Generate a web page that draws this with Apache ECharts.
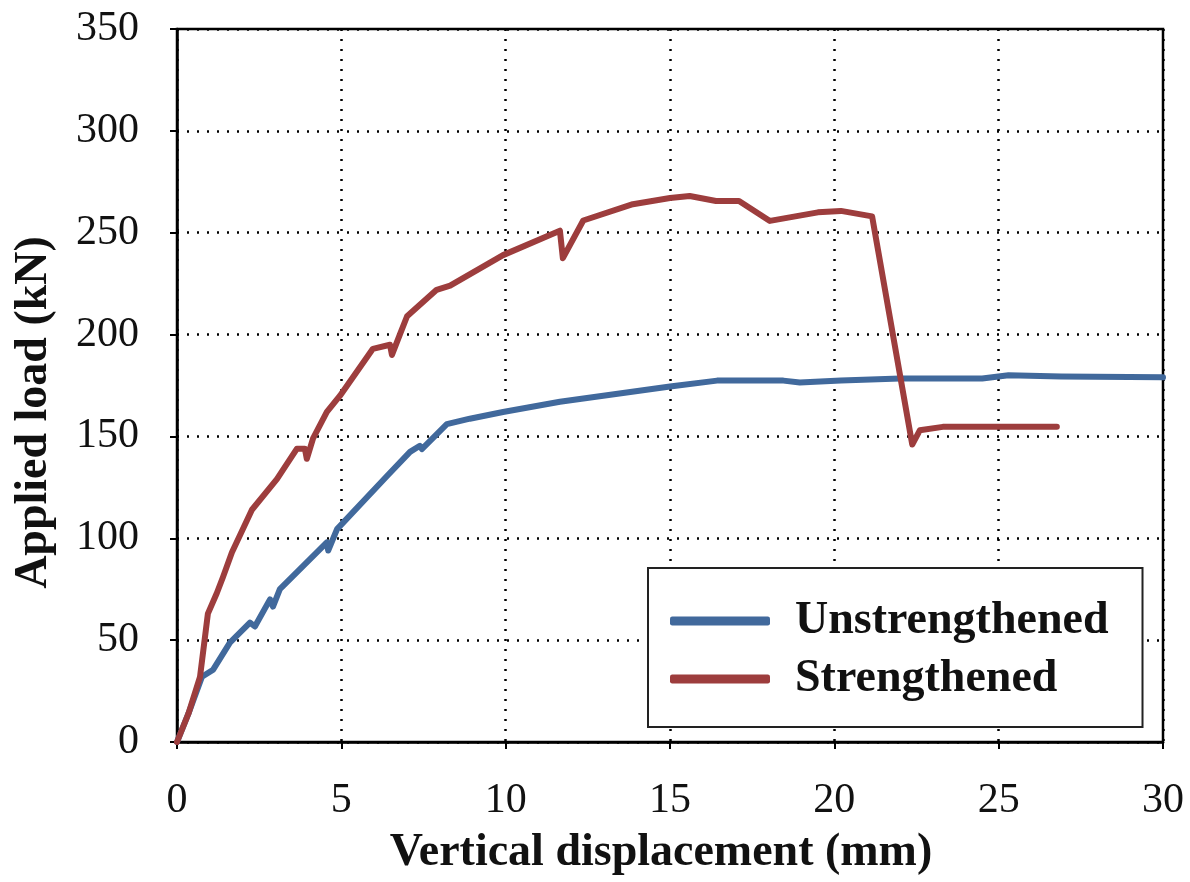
<!DOCTYPE html>
<html>
<head>
<meta charset="utf-8">
<script src="https://cdn.jsdelivr.net/npm/echarts@6/dist/echarts.min.js"></script>
<style>
  html, body { margin: 0; padding: 0; background: #fff; }
  #chart { width: 1190px; height: 882px; }
</style>
</head>
<body>
<div id="chart"></div>
<script>
// vertical displacement (mm) / applied load (kN)
var unstrengthenedX = [0, 0.35, 0.76, 1.1, 1.61, 2.22, 2.37, 2.83, 2.92, 3.13, 4.56, 4.6, 4.87, 6.39, 7.09, 7.39, 7.45, 8.21, 8.91, 9.92, 11.65, 15.0, 16.43, 18.45, 18.95, 20.2, 22.0, 24.5, 25.3, 26.9, 30];
var unstrengthenedY = [0, 14, 32, 35.5, 48.8, 58.6, 56.7, 70, 66.5, 75, 98, 94, 104.5, 130.6, 142.4, 145.4, 143.8, 156, 158.7, 162, 167, 174.5, 177.4, 177.4, 176.5, 177.4, 178.4, 178.4, 180, 179.4, 179];

var strengthenedX = [0, 0.35, 0.7, 0.94, 1.21, 1.4, 1.67, 2.28, 3.04, 3.65, 3.89, 3.95, 4.14, 4.56, 4.96, 5.96, 6.48, 6.54, 6.78, 7.0, 7.9, 8.31, 9.92, 11.65, 11.74, 12.36, 13.87, 15.0, 15.6, 16.4, 17.1, 18.04, 19.5, 20.2, 21.15, 22.37, 22.6, 23.3, 24.95, 26.77];
var strengthenedY = [0, 14, 32, 63, 73, 81, 93, 114, 129, 144, 144, 139, 149, 162, 170, 193, 195, 190, 200, 209, 222, 224, 239, 251, 237.5, 256, 264, 267, 268, 265.6, 265.6, 255.8, 260, 260.7, 258, 146, 153, 154.7, 154.7, 154.7];

var seriesNames = ['Unstrengthened', 'Strengthened'];
var seriesColors = ['#41699c', '#9d3d3d'];

function zip(xs, ys) {
    return xs.map(function (x, i) { return [x, ys[i]]; });
}

var chart = echarts.init(document.getElementById('chart'));

var dotted = { color: '#000', width: 2.5, type: [2, 8] };
var serif = '"Liberation Serif", "Times New Roman", serif';

chart.setOption({
    animation: false,
    backgroundColor: '#fff',
    grid: {
        left: 177, right: 27, top: 29, bottom: 140,
        show: true, borderColor: '#000', borderWidth: 2.5
    },
    legend: {
        orient: 'vertical',
        left: 648, top: 568,
        padding: [30, 34, 25, 22],
        itemGap: 12,
        itemWidth: 100, itemHeight: 9,
        icon: 'roundRect',
        borderColor: '#222', borderWidth: 2,
        backgroundColor: '#fff',
        textStyle: { fontFamily: serif, fontWeight: 'bold', fontSize: 46, color: '#111', padding: [0, 0, 0, 20] },
        data: seriesNames
    },
    xAxis: {
        type: 'value', min: 0, max: 30, interval: 5,
        name: 'Vertical displacement (mm)',
        nameLocation: 'middle', nameGap: 88,
        nameTextStyle: { fontFamily: serif, fontWeight: 'bold', fontSize: 46, color: '#111', padding: [0, 18, 0, 0] },
        axisLine: { lineStyle: { color: '#000', width: 2.5 } },
        axisTick: { show: true, length: 7, lineStyle: { color: '#000', width: 2 } },
        axisLabel: { fontFamily: serif, fontSize: 42, color: '#111', margin: 38 },
        splitLine: { show: true, lineStyle: dotted }
    },
    yAxis: {
        type: 'value', min: 0, max: 350, interval: 50,
        name: 'Applied load (kN)',
        nameLocation: 'middle', nameGap: 120,
        nameTextStyle: { fontFamily: serif, fontWeight: 'bold', fontSize: 46, color: '#111', padding: [0, 54, 0, 0] },
        axisLine: { lineStyle: { color: '#000', width: 2.5 } },
        axisTick: { show: true, length: 7, lineStyle: { color: '#000', width: 2 } },
        axisLabel: { fontFamily: serif, fontSize: 42, color: '#111', margin: 38 },
        splitLine: { show: true, lineStyle: dotted }
    },
    series: [
        {
            name: seriesNames[0], type: 'line', symbol: 'none',
            color: seriesColors[0],
            lineStyle: { width: 6, cap: 'round', join: 'round' },
            data: zip(unstrengthenedX, unstrengthenedY)
        },
        {
            name: seriesNames[1], type: 'line', symbol: 'none',
            color: seriesColors[1],
            lineStyle: { width: 6, cap: 'round', join: 'round' },
            data: zip(strengthenedX, strengthenedY)
        }
    ]
});
</script>
</body>
</html>
